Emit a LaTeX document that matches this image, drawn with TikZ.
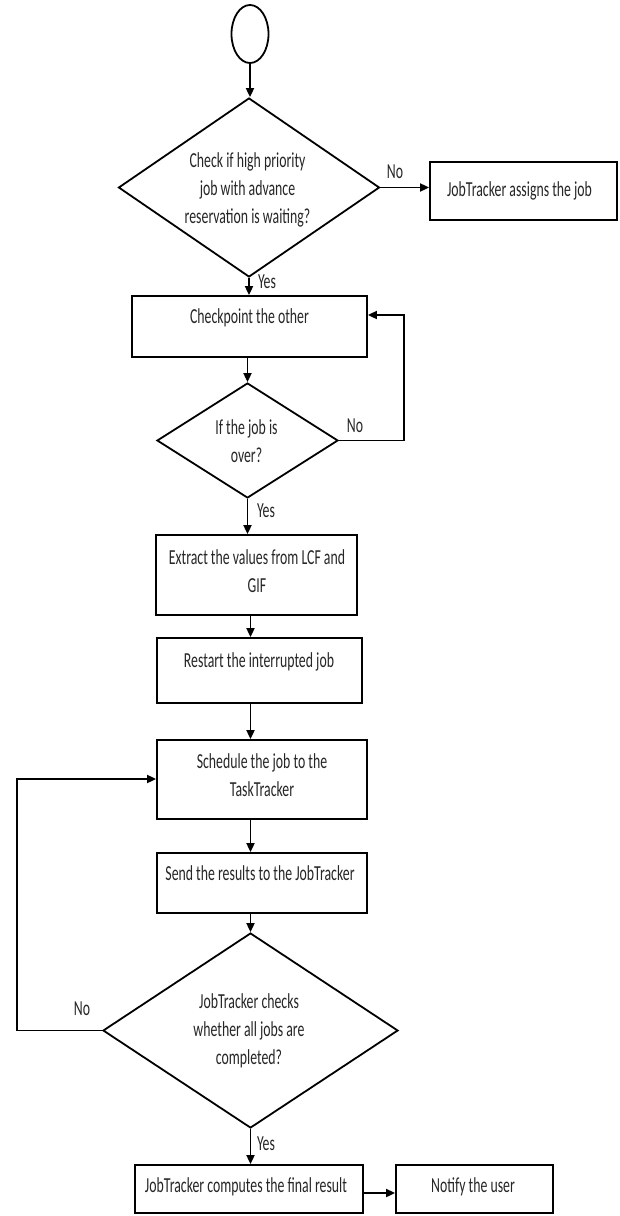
\documentclass[tikz,border=0pt]{standalone}
\usepackage{fontspec}
\setmainfont{Carlito}
\usepackage{graphicx}
\usetikzlibrary{shapes.geometric,arrows.meta}
% text is set a little taller than wide, in centred lines
\newcommand\tallrows[1]{\scalebox{1}[1.55]{\begin{tabular}{@{}c@{}}#1\end{tabular}}}

\begin{document}
\begin{tikzpicture}[x=0.5pt,y=-0.5pt,
  flow/.style={draw=black, line width=0.9pt, inner sep=0pt},
  stepbox/.style={flow, rectangle},
  decision/.style={flow, diamond},
  txt/.style={inner sep=0pt, font=\fontsize{6.9}{9}\selectfont, text=black!85},
  arr/.style={line width=0.9pt, -{Triangle[length=4.5pt,width=4pt]}}]
\useasboundingbox (0,0) rectangle (620,1216);

% shapes
\node[flow, ellipse, minimum width=18.5pt, minimum height=29pt] (start) at (250,34) {};
\node[decision, minimum width=130.5pt, minimum height=89.5pt] (d1) at (249,187.5) {};
\node[stepbox, minimum width=93.5pt, minimum height=29pt] (assign) at (523.5,191) {};
\node[stepbox, minimum width=117.5pt, minimum height=30.5pt] (cp) at (249.5,326.5) {};
\node[decision, minimum width=90.5pt, minimum height=57.5pt] (d2) at (247.5,440.5) {};
\node[stepbox, minimum width=100.5pt, minimum height=40pt] (ex) at (256.5,575) {};
\node[stepbox, minimum width=102.5pt, minimum height=32.5pt] (rs) at (259.5,670.5) {};
\node[stepbox, minimum width=105pt, minimum height=39.5pt] (sch) at (262,779.5) {};
\node[stepbox, minimum width=105pt, minimum height=30pt] (send) at (262,883) {};
\node[decision, minimum width=147.5pt, minimum height=97.5pt] (d3) at (250.5,1030.5) {};
\node[stepbox, minimum width=114pt, minimum height=24pt] (cmp) at (249,1189) {};
\node[stepbox, minimum width=78.5pt, minimum height=24pt] (nt) at (474.5,1189) {};

% texts
\node[txt] at (247.5,190) {\tallrows{Check if high priority\\job with advance\\reservation is waiting?}};
\node[txt] at (519.5,191) {\tallrows{JobTracker assigns the job}};
\node[txt] at (249.5,318) {\tallrows{Checkpoint the other}};
\node[txt] at (246.5,443) {\tallrows{If the job is\\over?}};
\node[txt] at (257,572.5) {\tallrows{Extract the values from LCF and\\GIF}};
\node[txt] at (259,662) {\tallrows{Restart the interrupted job}};
\node[txt] at (262,776.5) {\tallrows{Schedule the job to the\\TaskTracker}};
\node[txt] at (260,875) {\tallrows{Send the results to the JobTracker}};
\node[txt] at (249,1031) {\tallrows{JobTracker checks\\whether all jobs are\\completed?}};
\node[txt] at (246,1187) {\tallrows{JobTracker computes the final result}};
\node[txt] at (473,1187) {\tallrows{Notify the user}};

% branch labels
\node[txt] (no1) at (395,173) {\tallrows{No}};
\node[txt] (yes1) at (267,283) {\tallrows{Yes}};
\node[txt] (no2) at (355,427) {\tallrows{No}};
\node[txt] (yes2) at (266,512) {\tallrows{Yes}};
\node[txt] (no3) at (82,1010) {\tallrows{No}};
\node[txt] (yes3) at (266,1145) {\tallrows{Yes}};

% loop corners
\coordinate (loopR) at (404,315);
\coordinate (loopL) at (17,779);

% connectors
\draw[arr] (start.south) -- (start.south |- d1.north);
\draw[arr] (d1.east) -- (d1.east -| assign.west);
\draw[arr] (d1.south) -- (d1.south |- cp.north);
\draw[arr] (cp.south -| d2.north) -- (d2.north);
\draw[arr] (d2.east) -| (loopR) -- (loopR -| cp.east);
\draw[arr] (d2.south) -- (d2.south |- ex.north);
\draw[arr] (ex.south -| d3.north) -- (rs.north -| d3.north);
\draw[arr] (rs.south -| d3.north) -- (sch.north -| d3.north);
\draw[arr] (sch.south -| d3.north) -- (send.north -| d3.north);
\draw[arr] (send.south -| d3.north) -- (d3.north);
\draw[arr] (d3.west) -| (loopL) -- (loopL -| sch.west);
\draw[arr] (d3.south) -- (d3.south |- cmp.north);
\draw[arr] ([yshift=-2pt]cmp.east) -- ([yshift=-2pt]cmp.east -| nt.west);
\end{tikzpicture}
\end{document}
